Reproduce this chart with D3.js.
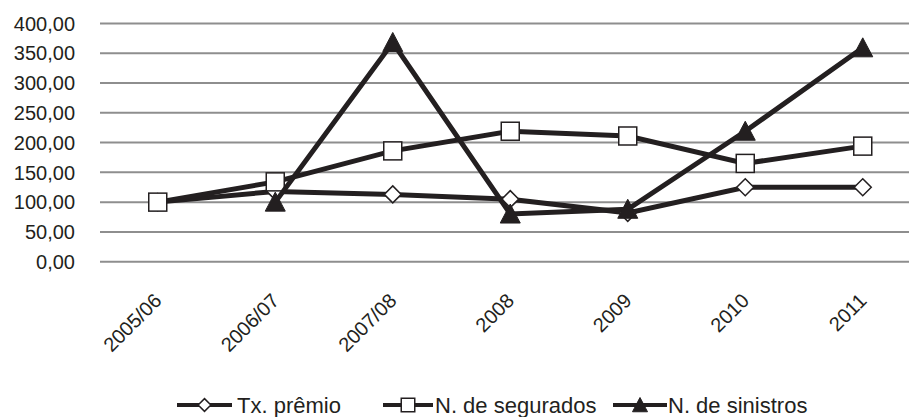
<!DOCTYPE html>
<html>
<head>
<meta charset="utf-8">
<script src="https://cdn.jsdelivr.net/npm/d3@7"></script>
<style>
  body { margin: 0; background: #fff; }
  svg { display: block; font-family: Arial, "Liberation Sans", Helvetica, sans-serif; }
</style>
</head>
<body>
<svg id="chart"></svg>
<script>
// Data
const categories = ["2005/06", "2006/07", "2007/08", "2008", "2009", "2010", "2011"];
const txPremio = [100, 118, 113, 105, 82, 125, 125];
const nSegurados = [100, 134, 186, 219, 211, 165, 194];
const nSinistros = [null, 100, 368, 80, 88, 219, 359];
const yTicks = [0, 50, 100, 150, 200, 250, 300, 350, 400];
const seriesNames = ["Tx. prêmio", "N. de segurados", "N. de sinistros"];

const width = 909, height = 417;
const ink = "#231f20";

const svg = d3.select("#chart")
    .attr("width", width)
    .attr("height", height);

// Scales
const x = d3.scalePoint()
    .domain(categories)
    .range([99, 921.5])
    .padding(0.5);

const y = d3.scaleLinear()
    .domain([0, 400])
    .range([261.7, 23.4]);

const fmt = d => d3.format(".2f")(d).replace(".", ",");

// Gridlines
svg.append("g")
    .selectAll("line")
    .data(yTicks)
    .join("line")
    .attr("x1", 100)
    .attr("x2", 921)
    .attr("y1", d => y(d))
    .attr("y2", d => y(d))
    .attr("stroke", "#8e8e8e")
    .attr("stroke-width", 2);

// Y labels
svg.append("g")
    .selectAll("text")
    .data(yTicks)
    .join("text")
    .attr("x", 75)
    .attr("y", d => y(d))
    .attr("dy", "0.36em")
    .attr("text-anchor", "end")
    .attr("font-size", 20)
    .attr("fill", ink)
    .text(fmt);

// X labels, rotated
svg.append("g")
    .selectAll("text")
    .data(categories)
    .join("text")
    .attr("transform", d => `translate(${x(d) + 5},302) rotate(-45)`)
    .attr("text-anchor", "end")
    .attr("font-size", 20)
    .attr("fill", ink)
    .text(d => d);

// Marker drawing helper, s = scale factor
function drawMarker(g, type, cx, cy, s = 1) {
    if (type === "diamond") {
        const r = 8.5 * s;
        g.append("path")
            .attr("d", `M${cx},${cy - r}L${cx + r},${cy}L${cx},${cy + r}L${cx - r},${cy}Z`)
            .attr("fill", "#fff")
            .attr("stroke", ink)
            .attr("stroke-width", 1.5);
    } else if (type === "square") {
        const h = 9 * s;
        g.append("rect")
            .attr("x", cx - h).attr("y", cy - h)
            .attr("width", 2 * h).attr("height", 2 * h)
            .attr("fill", "#fff")
            .attr("stroke", ink)
            .attr("stroke-width", 1.5);
    } else {
        g.append("path")
            .attr("d", `M${cx},${cy - 10 * s}L${cx + 10 * s},${cy + 9 * s}L${cx - 10 * s},${cy + 9 * s}Z`)
            .attr("fill", ink)
            .attr("stroke", ink)
            .attr("stroke-width", 1);
    }
}

const series = [
    { name: seriesNames[0], values: txPremio, marker: "diamond" },
    { name: seriesNames[1], values: nSegurados, marker: "square" },
    { name: seriesNames[2], values: nSinistros, marker: "triangle" }
];

const line = d3.line()
    .defined(d => d.v !== null)
    .x(d => x(d.c))
    .y(d => y(d.v));

series.forEach(s => {
    const pts = categories.map((c, i) => ({ c, v: s.values[i] }));
    const g = svg.append("g");
    g.append("path")
        .datum(pts)
        .attr("fill", "none")
        .attr("stroke", ink)
        .attr("stroke-width", 5)
        .attr("stroke-linejoin", "miter")
        .attr("d", line);
    pts.filter(p => p.v !== null).forEach(p => drawMarker(g, s.marker, x(p.c), y(p.v)));
});

// Legend
const legendItems = [
    { x0: 177, x1: 232, tx: 237 },
    { x0: 383, x1: 433, tx: 435 },
    { x0: 613, x1: 667, tx: 668 }
];
const legendY = 405;
series.forEach((s, i) => {
    const li = legendItems[i];
    const g = svg.append("g");
    g.append("line")
        .attr("x1", li.x0).attr("x2", li.x1)
        .attr("y1", legendY).attr("y2", legendY)
        .attr("stroke", ink)
        .attr("stroke-width", 4);
    drawMarker(g, s.marker, (li.x0 + li.x1) / 2, legendY, 0.75);
    g.append("text")
        .attr("x", li.tx)
        .attr("y", legendY)
        .attr("dy", "0.36em")
        .attr("font-size", 22)
        .attr("fill", ink)
        .text(s.name);
});
</script>
</body>
</html>
